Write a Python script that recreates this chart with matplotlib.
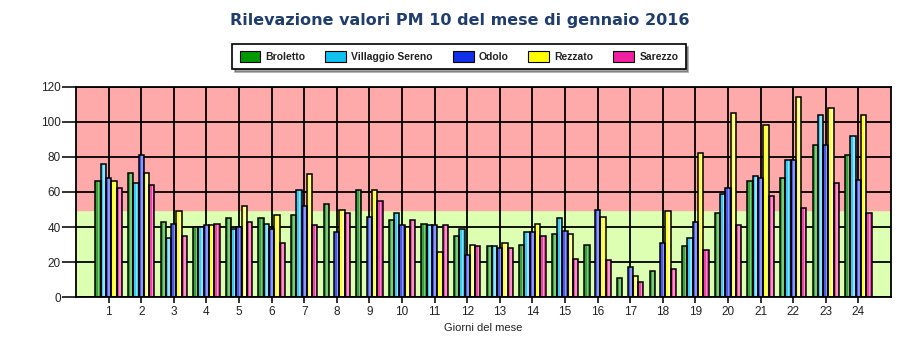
import numpy as np
import matplotlib.pyplot as plt
from matplotlib.patches import Patch

# Daily PM10 readings, January 2016 (NaN = no reading)
days = np.arange(1, 25)
stations = ['Broletto', 'Villaggio Sereno', 'Odolo', 'Rezzato', 'Sarezzo']
broletto = [66, 71, 43, 40, 45, 45, 47, 53, 61, 44, 42, 35, 29, 30, 36, 30, 11, 15, 29, 48, 66, 68, 87, 81]
villaggio = [76, 65, 34, 40, 39, 42, 61, np.nan, np.nan, 48, 41, 39, 29, 37, 45, np.nan, np.nan, np.nan, 34, 59, 69, 78, 104, 92]
odolo = [68, 81, 42, 41, 40, 39, 52, 37, 46, 41, 41, 24, 28, 37, 38, 50, 17, 31, 43, 62, 68, 78, 87, 67]
rezzato = [66, 71, 49, 41, 52, 47, 70, 50, 61, 40, 26, 30, 31, 42, 36, 46, 12, 49, 82, 105, 98, 114, 108, 104]
sarezzo = [62, 64, 35, 42, 43, 31, 41, 48, 55, 44, 41, 29, 28, 35, 22, 21, 9, 16, 27, 41, 58, 51, 65, 48]
series = [broletto, villaggio, odolo, rezzato, sarezzo]

bar_colors = ['#3a9e3a', '#3cc8f0', '#4a5ae6', '#ffff28', '#ee44a6']
bar_light = ['#78cc78', '#8ee4ff', '#8a96ff', '#ffffb0', '#ff90cc']
legend_colors = ['#009a00', '#10c0f0', '#1030e8', '#ffff00', '#f020a0']

plt.rcParams['font.family'] = ['Liberation Sans', 'DejaVu Sans']

fig = plt.figure(figsize=(9.2, 3.5), dpi=100)
ax = fig.add_axes([76/920, 1-297.3/350, (891-76)/920, (297.3-86.7)/350])

# threshold bands
ax.axhspan(0, 50, color='#dcffb2', zorder=0)
ax.axhspan(50, 120, color='#ffaaaa', zorder=0)

ax.set_xlim(0, 25)
ax.set_ylim(0, 120)
ax.set_xticks(days)
ax.set_yticks(range(0, 121, 20))
ax.set_axisbelow(True)
ax.grid(True, color='black', linewidth=1.3)

w = 0.163
for i, vals in enumerate(series):
    x = days + (i - 2) * w
    v = np.array(vals, dtype=float)
    ax.bar(x, v, w, color=bar_colors[i], linewidth=0, zorder=2)
    ax.bar(x + w * 0.12, v, w * 0.3, color=bar_light[i], linewidth=0, zorder=3)
    ax.bar(x, v, w, facecolor='none', edgecolor='black', linewidth=1.1, zorder=4)

for s in ax.spines.values():
    s.set_linewidth(1.3)
    s.set_zorder(5)
ax.tick_params(axis='y', length=10, width=1.3, labelsize=8.5, colors='#222222', pad=1)
ax.tick_params(axis='x', length=4, width=1.3, labelsize=8.5, colors='#222222', pad=2)
ax.set_xlabel('Giorni del mese', fontsize=8, color='#222222', labelpad=4)

fig.text(0.5, 1-20/350, 'Rilevazione valori PM 10 del mese di gennaio 2016',
         ha='center', va='center', fontsize=11.5, fontweight='bold', color='#1f3d6e',
         family='DejaVu Sans')

handles = [Patch(facecolor=c, edgecolor='black', linewidth=0.8) for c in legend_colors]
leg = fig.legend(handles, stations, loc='center', bbox_to_anchor=(459/920, 1-56.5/350),
                 ncol=5, frameon=True, fancybox=False, shadow=True,
                 handlelength=2.0, handleheight=1.2, columnspacing=1.9, handletextpad=0.5,
                 borderpad=0.7, borderaxespad=0,
                 prop={'weight': 'bold', 'size': 7.5, 'family': 'Liberation Sans'})
leg.get_frame().set_edgecolor('black')
leg.get_frame().set_linewidth(1.2)
for t in leg.get_texts():
    t.set_color('#222222')

fig.savefig('out.png', dpi=100)
